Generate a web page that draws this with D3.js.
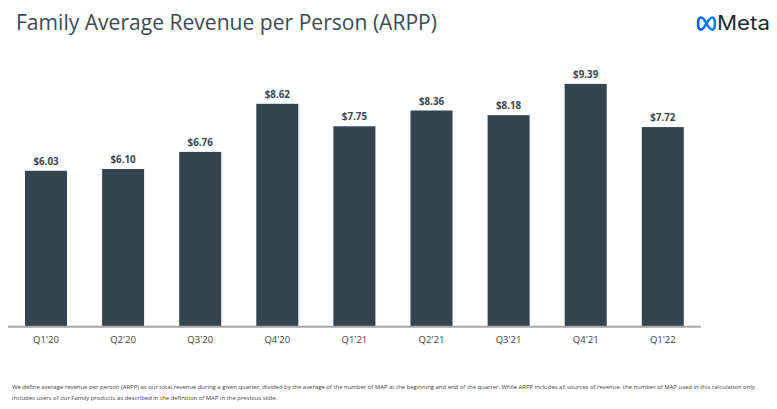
<!DOCTYPE html>
<html><head><meta charset="utf-8">
<script src="https://cdn.jsdelivr.net/npm/d3@7"></script>
<style>body{margin:0;background:#fff}svg{display:block}</style>
</head><body>
<svg id="c" width="777" height="409"></svg>
<script>
const categories = ["Q1'20","Q2'20","Q3'20","Q4'20","Q1'21","Q2'21","Q3'21","Q4'21","Q1'22"];
const values = [6.03,6.10,6.76,8.62,7.75,8.36,8.18,9.39,7.72];
const valueLabels = ["$6.03","$6.10","$6.76","$8.62","$7.75","$8.36","$8.18","$9.39","$7.72"];
const title = "Family Average Revenue per Person (ARPP)";
const footnote = ["We define average revenue per person (ARPP) as our total revenue during a given quarter, divided by the average of the number  of MAP at the beginning and end of the quarter. While ARPP includes all sources of revenue, the number of MAP used in this calculation only",
"includes users of our Family products as described in the definition of MAP in the previous slide."];

const svg = d3.select("#c");
const barColor = "#35454f";

const x = d3.scaleBand().domain(categories).range([7.45, 701.35]).paddingInner(0.455).paddingOuter(0.2275);
const y = d3.scaleLinear().domain([0, 10]).range([326.7, 68.1]);

// title
svg.append("text").attr("x", 16).attr("y", 30)
  .attr("font-family", "'Open Sans', sans-serif").attr("font-size", 21)
  .attr("fill", "#3b4a55").attr("textLength", 421).attr("lengthAdjust","spacingAndGlyphs")
  .text(title);

// bars
svg.append("g").selectAll("rect").data(values).join("rect")
  .attr("x", (d,i) => x(categories[i]))
  .attr("width", x.bandwidth())
  .attr("y", d => y(d))
  .attr("height", d => y(0) - y(d))
  .attr("fill", barColor);

// value labels
svg.append("g").selectAll("text").data(values).join("text")
  .attr("x", (d,i) => x(categories[i]) + x.bandwidth()/2)
  .attr("y", d => y(d) - 6)
  .attr("text-anchor", "middle")
  .attr("font-family", "'Open Sans', sans-serif").attr("font-weight", "bold")
  .attr("font-size", 9.8).attr("fill", "#3b4650")
  .text((d,i) => valueLabels[i]);

// axis
const axis = d3.axisBottom(x).tickSize(0).tickPadding(10);
const ag = svg.append("g").attr("transform", `translate(0,${y(0)})`).call(axis);
ag.select(".domain").attr("d", `M8,0H701`).attr("stroke", "#a6a6a6").attr("stroke-width", 2);
ag.selectAll("text").attr("font-family", "'Open Sans', sans-serif").attr("font-size", 9.5).attr("fill", "#404040");

// footnote
svg.append("g").selectAll("text").data(footnote).join("text")
  .attr("x", 12).attr("y", (d,i) => 389 + i*10.5)
  .attr("font-family", "'Open Sans', sans-serif").attr("font-size", 5.95).attr("fill", "#404040")
  .text(d => d);

// Meta logo
const defs = svg.append("defs");
const grad = defs.append("linearGradient").attr("id","mg").attr("x1","0").attr("x2","1");
grad.append("stop").attr("offset","0").attr("stop-color","#0064e0");
grad.append("stop").attr("offset","1").attr("stop-color","#0082fb");
svg.append("path")
  .attr("d", "M706.5,23.5 C704.5,19.5 702.8,17.3 700.6,17.5 C697.3,17.9 697.3,29.3 700.6,29.6 C703,29.8 704.8,26.5 706.5,23.5 C708.2,20.5 710,17.3 712.4,17.5 C715.7,17.9 715.7,29.3 712.4,29.6 C710.2,29.8 708.5,27.2 706.5,23.5 Z")
  .attr("fill","none").attr("stroke","url(#mg)").attr("stroke-width",2.6);
svg.append("text").attr("x", 717).attr("y", 30)
  .attr("font-family","'Inter', 'Liberation Sans', sans-serif").attr("font-size", 19.5)
  .attr("fill","#1c2b33").attr("textLength", 53).attr("lengthAdjust","spacingAndGlyphs")
  .text("Meta");
</script>
</body></html>
